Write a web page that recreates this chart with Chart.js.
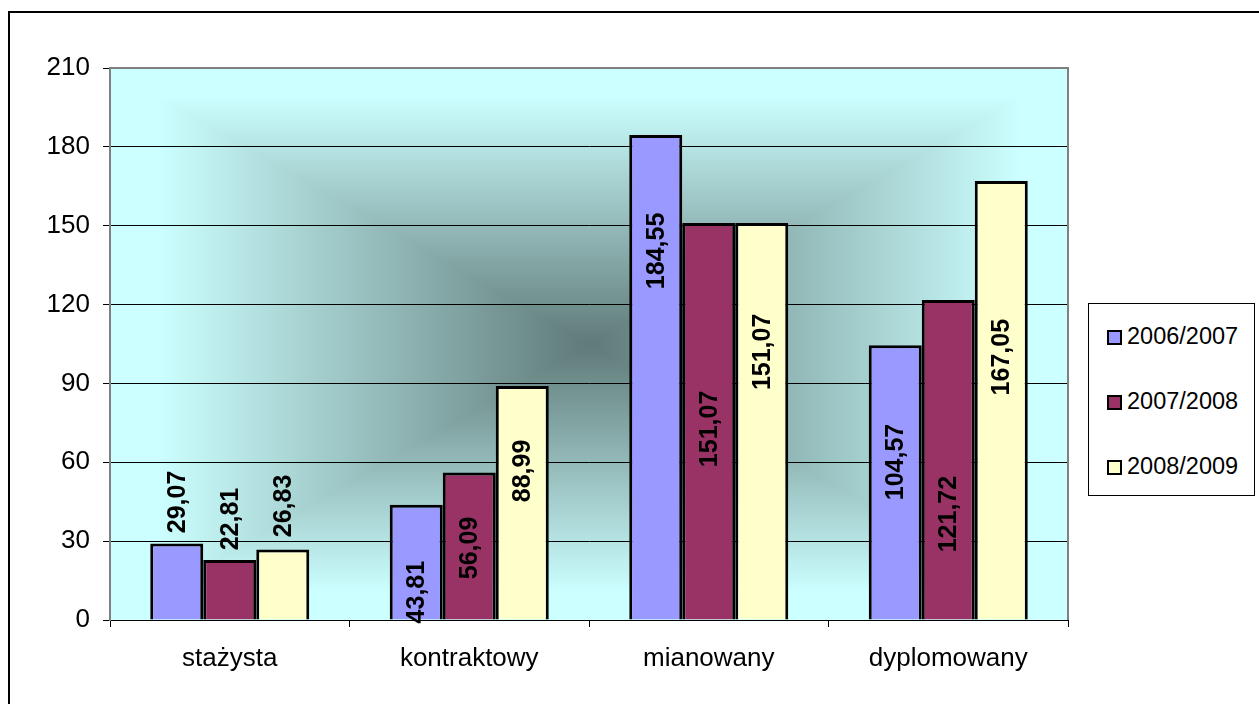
<!DOCTYPE html>
<html>
<head>
<meta charset="utf-8">
<script src="https://cdn.jsdelivr.net/npm/chart.js@4/dist/chart.umd.min.js"></script>
<style>
    body { margin: 0; background: #fff; font-family: 'Liberation Sans', Arial, sans-serif; }
    #wrap { position: relative; width: 1259px; height: 704px; overflow: hidden; }
    #legend {
        position: absolute; left: 1088px; top: 303px; width: 167px; height: 193px;
        border: 1px solid #000; box-sizing: border-box; background: #fff;
    }
    .item { position: absolute; left: 18px; height: 24px; line-height: 24px; font-size: 23.5px; color: #000; white-space: nowrap; }
    .sw { display: inline-block; width: 11px; height: 11px; border: 2px solid #000; vertical-align: -1px; margin-right: 5px; }
</style>
</head>
<body>
<div id="wrap">
    <canvas id="chart" width="1259" height="704"></canvas>
    <div id="legend"></div>
</div>
<script>
// Data
const categories = ['stażysta', 'kontraktowy', 'mianowany', 'dyplomowany'];
const seriesNames = ['2006/2007', '2007/2008', '2008/2009'];
const values2006 = [29.07, 43.81, 184.55, 104.57];
const values2007 = [22.81, 56.09, 151.07, 121.72];
const values2008 = [26.83, 88.99, 151.07, 167.05];
const yTicks = [0, 30, 60, 90, 120, 150, 180, 210];

// where each value label was dragged to in the original (centre, in axis units)
const labelAt2006 = [44.9, 10.6, 140.4, 60.1];
const labelAt2007 = [38.4, 27.4, 72.7, 40.3];
const labelAt2008 = [43.4, 56.7, 102.0, 100.0];

const colors = ['#9999FF', '#993366', '#FFFFCC'];
const FONT = "'Liberation Sans', Arial, sans-serif";

const fmt = v => v.toFixed(2).replace('.', ',');

// "from center" gradient of the plot area, like Excel does it
const plotBackground = {
    id: 'plotBackground',
    beforeDraw(chart) {
        const { left, top, width, height } = chart.chartArea;
        const w = Math.round(width), h = Math.round(height);
        const off = document.createElement('canvas');
        off.width = w; off.height = h;
        const octx = off.getContext('2d');
        const img = octx.createImageData(w, h);
        const inner = [95, 122, 120], outer = [204, 255, 255];
        for (let y = 0; y < h; y++) {
            const dy = Math.abs(y - h / 2) / (h / 2);
            for (let x = 0; x < w; x++) {
                const dx = Math.abs(x - w / 2) / (w / 2);
                let t = Math.min(1, Math.max(dx, dy) / 0.9);
                const i = (y * w + x) * 4;
                img.data[i] = inner[0] + (outer[0] - inner[0]) * t;
                img.data[i + 1] = inner[1] + (outer[1] - inner[1]) * t;
                img.data[i + 2] = inner[2] + (outer[2] - inner[2]) * t;
                img.data[i + 3] = 255;
            }
        }
        octx.putImageData(img, 0, 0);
        chart.ctx.drawImage(off, left, top);
    },
    afterDraw(chart) {
        const ctx = chart.ctx;
        const { left, top, right, bottom } = chart.chartArea;
        ctx.save();
        ctx.strokeStyle = '#808080';
        ctx.lineWidth = 2;
        ctx.beginPath();
        ctx.moveTo(left, top);
        ctx.lineTo(right, top);
        ctx.lineTo(right, bottom);
        ctx.stroke();
        // outer frame (cut off on the right and bottom in the original)
        ctx.fillStyle = '#000';
        ctx.fillRect(8, 11, 2, 704);
        ctx.fillRect(8, 11, 1259, 2);
        ctx.restore();
    }
};

const valueLabels = {
    id: 'valueLabels',
    afterDatasetsDraw(chart) {
        const ctx = chart.ctx;
        const yScale = chart.scales.y;
        const positions = [labelAt2006, labelAt2007, labelAt2008];
        ctx.save();
        ctx.font = 'bold 25px ' + FONT;
        ctx.fillStyle = '#000';
        ctx.textAlign = 'center';
        ctx.textBaseline = 'middle';
        chart.data.datasets.forEach((ds, di) => {
            chart.getDatasetMeta(di).data.forEach((bar, i) => {
                ctx.save();
                ctx.translate(bar.x, yScale.getPixelForValue(positions[di][i]));
                ctx.rotate(-Math.PI / 2);
                ctx.fillText(fmt(ds.data[i]), 0, 1);
                ctx.restore();
            });
        });
        ctx.restore();
    }
};

const datasets = [values2006, values2007, values2008].map((data, i) => ({
    label: seriesNames[i],
    data,
    backgroundColor: colors[i],
    borderColor: '#000',
    borderWidth: 3,
    borderSkipped: 'bottom',
    categoryPercentage: 0.664,
    barPercentage: 1
}));

new Chart(document.getElementById('chart'), {
    type: 'bar',
    data: { labels: categories, datasets },
    options: {
        responsive: false,
        animation: false,
        layout: { padding: { left: 0, top: 68, right: 191, bottom: 0 } },
        plugins: { legend: { display: false }, tooltip: { enabled: false } },
        scales: {
            x: {
                afterFit: s => { s.height = 84; },
                grid: { offset: true, drawOnChartArea: false, color: '#000', tickLength: 7 },
                border: { color: '#000', width: 1 },
                ticks: { color: '#000', font: { family: FONT, size: 26 }, padding: 16 }
            },
            y: {
                min: 0,
                max: 210,
                afterFit: s => { s.width = 110; },
                afterBuildTicks: s => { s.ticks = yTicks.map(v => ({ value: v })); },
                grid: { color: '#000', lineWidth: 1, tickLength: 7 },
                border: { color: '#808080', width: 2 },
                ticks: { color: '#000', font: { family: FONT, size: 26 }, padding: 13 }
            }
        }
    },
    plugins: [plotBackground, valueLabels]
});

// legend as real text
const legend = document.getElementById('legend');
seriesNames.forEach((name, i) => {
    const el = document.createElement('div');
    el.className = 'item';
    el.style.top = (20 + i * 65) + 'px';
    el.innerHTML = '<span class="sw" style="background:' + colors[i] + '"></span>' + name;
    legend.appendChild(el);
});
</script>
</body>
</html>
